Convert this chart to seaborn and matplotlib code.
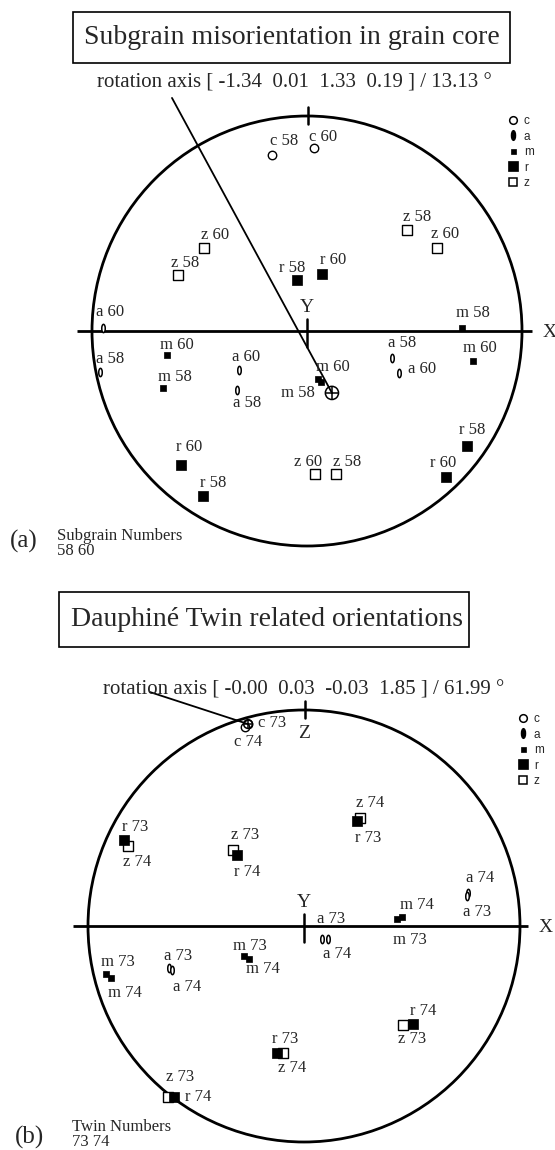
import numpy as np
import pandas as pd
import matplotlib
matplotlib.use("Agg")
import matplotlib.pyplot as plt
from matplotlib.lines import Line2D
from matplotlib.patches import Circle, Rectangle
from matplotlib.path import Path
from matplotlib.transforms import Affine2D
import seaborn as sns

sns.set_theme(style="white")
plt.rcParams["font.family"] = ["Liberation Serif", "DejaVu Serif"]

# ---------------- (a) subgrain misorientation, subgrains 58 / 60 ----------------
a_axes = ["c", "c", "z", "z", "z", "z", "r", "r", "a", "a", "m", "m", "a",
          "a", "r", "r", "m", "m", "a", "a", "m", "m", "z", "z", "r", "r"]
a_ids = [58, 60, 60, 58, 58, 60, 58, 60, 60, 58, 60, 58, 60,
         58, 60, 58, 60, 58, 58, 60, 58, 60, 60, 58, 58, 60]
a_x = [-0.163, 0.033, -0.479, -0.600, 0.465, 0.605, -0.047, 0.070, -0.949,
       -0.963, -0.651, -0.670, -0.316, -0.326, -0.586, -0.484, 0.051, 0.065,
       0.395, 0.428, 0.721, 0.772, 0.037, 0.135, 0.744, 0.647]
a_y = [0.819, 0.851, 0.386, 0.260, 0.470, 0.386, 0.237, 0.265, 0.014,
       -0.191, -0.112, -0.265, -0.181, -0.274, -0.623, -0.767, -0.223, -0.237,
       -0.126, -0.195, 0.014, -0.140, -0.665, -0.665, -0.535, -0.679]
a_rot_index = [-1.34, 0.01, 1.33, 0.19]
a_rot_angle = 13.13
a_rot_pole = [0.116, -0.288]
a_numbers = [58, 60]

# ---------------- (b) Dauphine twin pair 73 / 74 ----------------
b_axes = ["c", "c", "r", "z", "z", "r", "r", "z", "a", "a", "a", "a", "m",
          "m", "z", "r", "r", "z", "m", "m", "a", "a", "m", "m", "z", "r"]
b_ids = [73, 74, 73, 74, 73, 74, 73, 74, 74, 73, 73, 74, 73,
         74, 73, 74, 73, 74, 73, 74, 73, 74, 73, 74, 73, 74]
b_x = [-0.259, -0.273, -0.833, -0.815, -0.329, -0.310, 0.245, 0.259, 0.759,
       0.755, 0.083, 0.111, 0.431, 0.454, 0.458, 0.505, -0.125, -0.097,
       -0.917, -0.894, -0.625, -0.611, -0.278, -0.255, -0.630, -0.602]
b_y = [0.935, 0.921, 0.398, 0.370, 0.352, 0.329, 0.486, 0.500, 0.153,
       0.139, -0.060, -0.060, 0.032, 0.042, -0.458, -0.454, -0.588, -0.588,
       -0.222, -0.241, -0.194, -0.204, -0.139, -0.153, -0.792, -0.792]
b_rot_index = [-0.00, 0.03, -0.03, 1.85]
b_rot_angle = 61.99
b_rot_pole = [-0.259, 0.935]
b_numbers = [73, 74]

# label placement (pixel offsets of each label centre from its pole)
a_label_offsets = [(12, 14), (9, 11), (11, 13), (7, 12), (10, 13), (8, 14),
                   (-5, 12), (11, 14), (7, 16), (10, 13), (10, 10), (12, 11),
                   (7, 13), (10, -13), (8, 18), (10, 13), (15, 12), (-23, -11),
                   (10, 15), (23, 4), (11, 15), (7, 13), (-7, 12), (11, 12),
                   (5, 16), (-3, 14)]
b_label_offsets = [(24, 1), (3, -15), (11, 13), (9, -16), (12, 15), (10, -17),
                   (11, -17), (10, 15), (12, 15), (10, -16), (9, 20), (9, -15),
                   (13, -21), (15, 12), (9, -14), (10, 13), (8, 14), (9, -15),
                   (12, 12), (14, -15), (9, 12), (15, -17), (6, 10), (14, -10),
                   (12, 20), (24, 0)]

W, H = 555, 1150
fig = plt.figure(figsize=(W / 100, H / 100), dpi=100)

# narrow vertical ellipse used for the a-axes
ellipse = Path.unit_circle().transformed(Affine2D().scale(0.42, 1.0))

STYLE = {
    "c": dict(marker="o", s=37, facecolor="white", edgecolor="black", linewidth=1.0),
    "a": dict(marker=ellipse, s=36, facecolor="white", edgecolor="black", linewidth=1.1),
    "m": dict(marker="s", s=13, facecolor="black", edgecolor="black", linewidth=0.5),
    "z": dict(marker="s", s=47, facecolor="white", edgecolor="black", linewidth=1.0),
    "r": dict(marker="s", s=55, facecolor="black", edgecolor="black", linewidth=0.5),
}
ORDER = ["c", "a", "m", "z", "r"]


def fx(px):
    return px / W


def fy(py):
    return 1 - py / H


def make_axes(top, bottom, cx, cy, R):
    ax = fig.add_axes([0, fy(bottom), 1, (bottom - top) / H])
    ax.set_xlim(-cx / R, (W - cx) / R)
    ax.set_ylim((cy - bottom) / R, (cy - top) / R)
    ax.set_axis_off()
    return ax


def draw_net(ax, df, offsets, rot_pole, rot_start, pole_size, top_tick_label, x_end):
    ax.add_patch(Circle((0, 0), 1.0, fill=False, ec="black", lw=2.0, zorder=2))
    ax.plot([-1.07, x_end], [0, 0], color="black", lw=2.0, zorder=2,
            solid_capstyle="butt")
    ax.plot([0.005, 0.005], [0.965, 1.04], color="black", lw=1.8, zorder=2)
    ax.plot([0, 0], [-0.075, 0.055], color="black", lw=1.8, zorder=2)
    ax.text(0, 0.11, "Y", ha="center", va="center", fontsize=14)
    ax.text(x_end + 0.08, -0.005, "X", ha="center", va="center", fontsize=14)
    if top_tick_label:
        ax.text(0, 0.89, top_tick_label, ha="center", va="center", fontsize=14)

    for key in ORDER:
        sub = df[df["axis"] == key]
        sns.scatterplot(data=sub, x="x", y="y", ax=ax, legend=False, zorder=3,
                        **STYLE[key])

    for (_, row), (dx, dy) in zip(df.iterrows(), offsets):
        ax.annotate(f"{row['axis']} {row['id']}", xy=(row["x"], row["y"]),
                    xytext=(dx, dy), textcoords="offset pixels",
                    ha="center", va="center", fontsize=12, zorder=4)

    # rotation axis pole and its leader
    ax.plot([rot_start[0], rot_pole[0]], [rot_start[1], rot_pole[1]],
            color="black", lw=1.3, zorder=2)
    ax.scatter([rot_pole[0]], [rot_pole[1]], marker="o", s=pole_size,
               facecolor="none", edgecolor="black", linewidth=1.1, zorder=5)
    ax.scatter([rot_pole[0]], [rot_pole[1]], marker="+", s=pole_size,
               color="black", linewidth=1.1, zorder=6)

    handles = [
        Line2D([], [], ls="none", marker="o", ms=5.5, mfc="white", mec="black", mew=1.1),
        Line2D([], [], ls="none", marker=ellipse, ms=7, mfc="black", mec="black", mew=1.0),
        Line2D([], [], ls="none", marker="s", ms=3.6, mfc="black", mec="black", mew=0.5),
        Line2D([], [], ls="none", marker="s", ms=6.8, mfc="black", mec="black", mew=0.5),
        Line2D([], [], ls="none", marker="s", ms=6.0, mfc="white", mec="black", mew=1.1),
    ]
    return handles


def rot_text(idx, ang):
    vals = "  ".join(f"{v:.2f}" for v in idx)
    return f"rotation axis [ {vals} ] / {ang:.2f} \u00b0"


legend_kw = dict(frameon=False, loc="upper left", handlelength=0.8,
                 handletextpad=0.55, labelspacing=0.3, borderpad=0,
                 borderaxespad=0, prop={"family": "Liberation Sans", "size": 8.5},
                 bbox_transform=fig.transFigure)
legend_labels = ["c", "a", "m", "r", "z"]

# ---- panel (a) ----
df_a = pd.DataFrame({"axis": a_axes, "id": a_ids, "x": a_x, "y": a_y})
ax_a = make_axes(0, 575, 307, 331, 215)
h = draw_net(ax_a, df_a, a_label_offsets, a_rot_pole, (-0.628, 1.084), 90, None, 1.047)
ax_a.legend(h, legend_labels, bbox_to_anchor=(fx(508), fy(115)), **legend_kw)

fig.patches.append(Rectangle((fx(73), fy(63)), fx(510) - fx(73), fy(12) - fy(63),
                             transform=fig.transFigure, fill=False, ec="black", lw=1.2))
fig.text(fx(292), fy(37), "Subgrain misorientation in grain core",
         ha="center", va="center", fontsize=20)
fig.text(fx(294), fy(83), rot_text(a_rot_index, a_rot_angle),
         ha="center", va="center", fontsize=15)
fig.text(fx(10), fy(541), "(a)", ha="left", va="center", fontsize=18)
fig.text(fx(57), fy(536), "Subgrain Numbers", ha="left", va="center", fontsize=12)
fig.text(fx(57), fy(551), " ".join(str(n) for n in a_numbers),
         ha="left", va="center", fontsize=12)

# ---- panel (b) ----
df_b = pd.DataFrame({"axis": b_axes, "id": b_ids, "x": b_x, "y": b_y})
ax_b = make_axes(575, 1150, 304, 926, 216)
h = draw_net(ax_b, df_b, b_label_offsets, b_rot_pole, (-0.713, 1.083), 40, "Z", 1.037)
ax_b.legend(h, legend_labels, bbox_to_anchor=(fx(518), fy(713)), **legend_kw)

fig.patches.append(Rectangle((fx(59), fy(647)), fx(469) - fx(59), fy(592) - fy(647),
                             transform=fig.transFigure, fill=False, ec="black", lw=1.2))
fig.text(fx(267), fy(620), "Dauphin\u00e9 Twin related orientations",
         ha="center", va="center", fontsize=20)
fig.text(fx(304), fy(690), rot_text(b_rot_index, b_rot_angle),
         ha="center", va="center", fontsize=15)
fig.text(fx(15), fy(1137), "(b)", ha="left", va="center", fontsize=18)
fig.text(fx(72), fy(1127), "Twin Numbers", ha="left", va="center", fontsize=12)
fig.text(fx(72), fy(1142), " ".join(str(n) for n in b_numbers),
         ha="left", va="center", fontsize=12)

fig.savefig("out.png", dpi=100, facecolor="white")
